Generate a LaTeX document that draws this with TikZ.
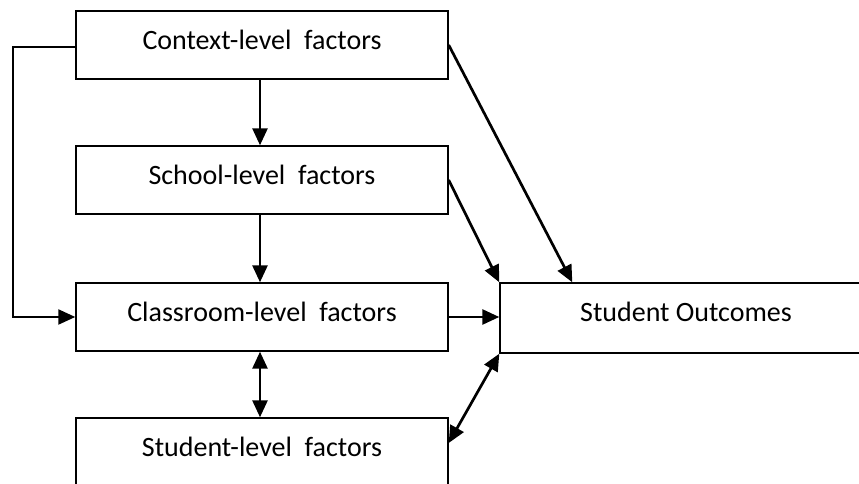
\documentclass[tikz,border=0pt]{standalone}
\usepackage{fontspec}
\setmainfont{Carlito}
\usetikzlibrary{arrows.meta}

\begin{document}
\begin{tikzpicture}[x=1pt,y=1pt,
    level/.style={draw, line width=1.4pt, minimum width=372pt, minimum height=68pt, inner sep=0pt, text depth=10pt, font=\fontsize{28}{33}\selectfont},
    link/.style={line width=2.7pt, -{Triangle[length=17pt,width=15pt]}},
    both/.style={line width=2.7pt, {Triangle[length=17pt,width=15pt]}-{Triangle[length=17pt,width=15pt]}}]
    \useasboundingbox (0,0) rectangle (859,484);
    \node[level] (context) at (262,439) {Context-level~ factors};
    \node[level] (school) at (262,304) {School-level~ factors};
    \node[level] (classroom) at (262,167) {Classroom-level~ factors};
    \node[level] (student) at (262,32) {Student-level~ factors};
    \node[level, minimum height=70pt, text depth=12pt] (outcome) at (686,166) {Student Outcomes};
    \coordinate (bend) at (13,0);

    \draw[link] ([xshift=-2pt]context.south) -- ([xshift=-2pt]school.north);
    \draw[link] ([xshift=-2pt]school.south) -- ([xshift=-2pt]classroom.north);
    \draw[both] ([xshift=-2pt]classroom.south) -- ([xshift=-2pt]student.north);
    \draw[link, line width=2.2pt] ([yshift=-2pt]context.west) -- ([yshift=-2pt]context.west -| bend) |- (classroom.west);
    \draw[link] (context.east) -- ([xshift=73pt]outcome.north west);
    \draw[link] (school.east) -- (outcome.north west);
    \draw[link] (classroom.east) -- (classroom.east -| outcome.west);
    \draw[both] ([yshift=9pt]student.east) -- (outcome.south west);
  \end{tikzpicture}
\end{document}
